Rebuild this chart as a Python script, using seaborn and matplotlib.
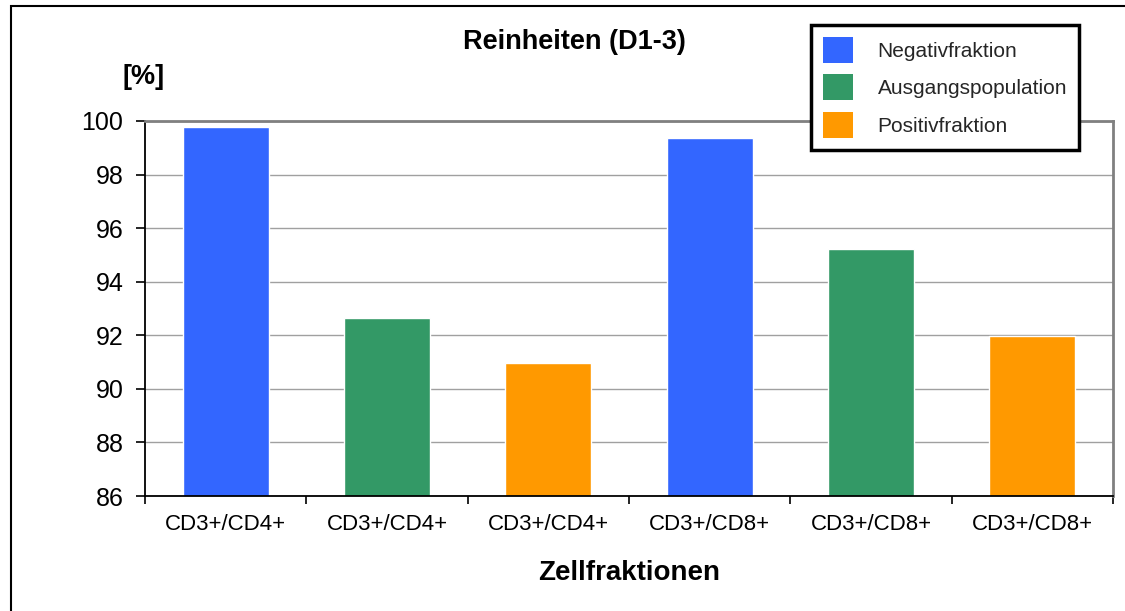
import matplotlib
matplotlib.use("Agg")
import matplotlib.pyplot as plt
from matplotlib.patches import Patch, Rectangle
import seaborn as sns
import pandas as pd
import numpy as np

# ---- data ----
slots = ["1", "2", "3", "4", "5", "6"]
tick_labels = ["CD3+/CD4+", "CD3+/CD4+", "CD3+/CD4+", "CD3+/CD8+", "CD3+/CD8+", "CD3+/CD8+"]
fractions = ["Negativfraktion", "Ausgangspopulation", "Positivfraktion",
             "Negativfraktion", "Ausgangspopulation", "Positivfraktion"]
values = [99.78, 92.65, 90.97, 99.37, 95.22, 91.98]
series = ["Negativfraktion", "Ausgangspopulation", "Positivfraktion"]
colors = ["#3366FF", "#339966", "#FF9900"]
y_ticks = [86, 88, 90, 92, 94, 96, 98, 100]

df = pd.DataFrame({"slot": slots, "fraction": fractions, "value": values})

sns.set_theme(style="white")
plt.rcParams["font.family"] = ["Liberation Sans", "DejaVu Sans"]

W, H = 1125, 611
fig = plt.figure(figsize=(W / 100, H / 100), dpi=100)
fig.patch.set_facecolor("white")

ax = fig.add_axes([145 / W, 1 - 496 / H, 968 / W, 375 / H])
ax.set_facecolor("white")

sns.barplot(data=df, x="slot", y="value", hue="fraction", order=slots,
            hue_order=series, palette=colors, dodge=False, width=0.533,
            saturation=1, legend=False, ax=ax)

ax.set_ylim(86, 100)
ax.set_xlim(-0.5, len(slots) - 0.5)
ax.set_yticks(y_ticks)
ax.set_yticklabels([str(v) for v in y_ticks])
ax.yaxis.grid(True, color="#a0a0a0", linewidth=1.0)
ax.set_axisbelow(True)

# major ticks at category boundaries (no labels), minor at centres with labels
bounds = np.arange(len(slots) + 1) - 0.5
ax.set_xticks(bounds)
ax.set_xticklabels([""] * len(bounds))
ax.set_xticks(np.arange(len(slots)), minor=True)
ax.set_xticklabels(tick_labels, minor=True)
ax.tick_params(axis="x", which="major", direction="out", length=6, width=1.2,
               color="black", bottom=True)
ax.tick_params(axis="x", which="minor", length=0, pad=13, labelsize=16,
               labelcolor="black")
ax.tick_params(axis="y", direction="out", length=6.5, width=1.2, color="black",
               left=True, pad=9, labelsize=18, labelcolor="black")

ax.set_xlabel("")
ax.set_ylabel("")

for side in ["left", "bottom"]:
    ax.spines[side].set_color("black")
    ax.spines[side].set_linewidth(1.3)
for side in ["top", "right"]:
    ax.spines[side].set_visible(True)
    ax.spines[side].set_color("#808080")
    ax.spines[side].set_linewidth(2)

# texts
fig.text(574 / W, 1 - 42 / H, "Reinheiten (D1-3)", ha="center", va="center",
         fontsize=19.5, fontweight="bold", color="black")
fig.text(144 / W, 1 - 77 / H, "[%]", ha="center", va="center",
         fontsize=19.5, fontweight="bold", color="black")
fig.text(629 / W, 1 - 573 / H, "Zellfraktionen", ha="center", va="center",
         fontsize=20, fontweight="bold", color="black")

# legend
handles = [Patch(facecolor=c, edgecolor="none", label=s) for s, c in zip(series, colors)]
leg = fig.legend(handles=handles, loc="upper right",
                 bbox_to_anchor=(1079 / W, 1 - 25 / H), bbox_transform=fig.transFigure,
                 borderaxespad=0, fontsize=15, handlelength=1.44, handleheight=1.54,
                 handletextpad=1.2, labelspacing=0.55, borderpad=0.57,
                 fancybox=False, framealpha=1, edgecolor="black")
leg.get_frame().set_linewidth(2.5)

# outer figure border
fig.add_artist(Rectangle((11 / W, -0.1), 1.2, (1 - 6 / H) + 0.1,
                         transform=fig.transFigure, fill=False,
                         edgecolor="black", linewidth=1.5, clip_on=False))

fig.savefig("out.png", dpi=100, facecolor="white")
